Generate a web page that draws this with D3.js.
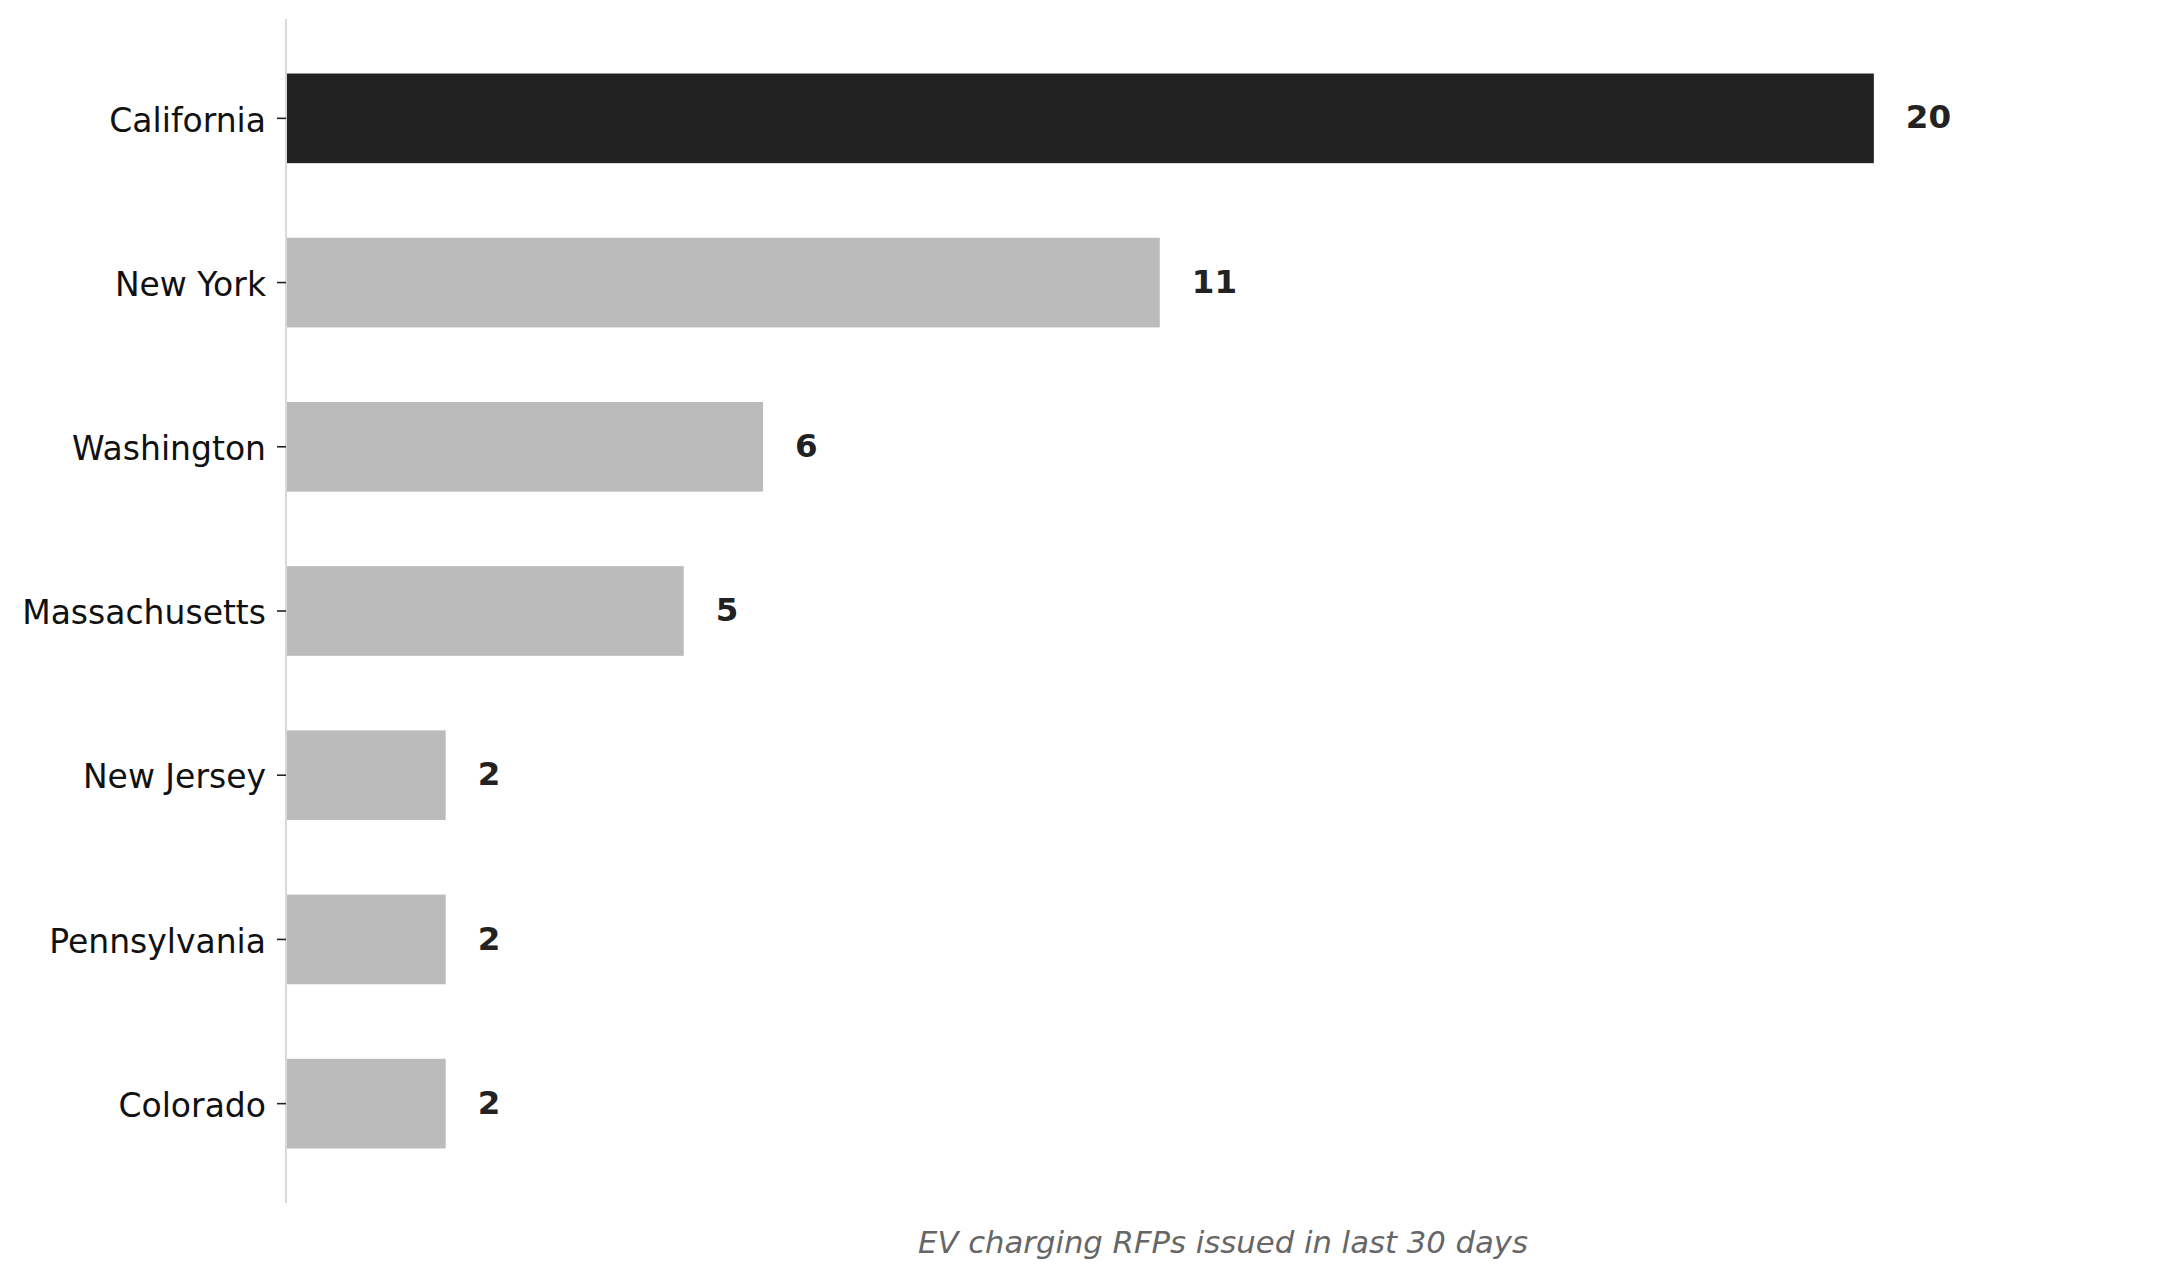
<!DOCTYPE html>
<html>
<head>
<meta charset="utf-8">
<script src="https://cdn.jsdelivr.net/npm/d3@7"></script>
<style>
  body { margin: 0; background: #fff; }
  svg { font-family: "DejaVu Sans", sans-serif; }
</style>
</head>
<body>
<svg id="chart"></svg>
<script>
const states = ["California", "New York", "Washington", "Massachusetts", "New Jersey", "Pennsylvania", "Colorado"];
const rfps = [20, 11, 6, 5, 2, 2, 2];
const highlight = "California";
const xLabel = "EV charging RFPs issued in last 30 days";

const data = states.map((s, i) => ({ state: s, value: rfps[i] }));

const margin = { top: 19, right: 10, bottom: 77, left: 287 };
const width = 2179 - margin.left - margin.right;
const height = 1280 - margin.top - margin.bottom;

const x = d3
  .scaleLinear()
  .range([0, width])
  .domain([0, d3.max(rfps) * 1.186]);

const y = d3
  .scaleBand()
  .range([0, height])
  .domain(states)
  .paddingInner(0.454)
  .paddingOuter(0.332);

const chart = d3
  .select("#chart")
  .attr("width", 2179)
  .attr("height", 1280)
  .append("g")
  .attr("transform", `translate(${margin.left}, ${margin.top})`);

chart
  .selectAll(".bar")
  .data(data)
  .enter()
  .append("rect")
  .attr("class", "bar")
  .attr("x", 0)
  .attr("y", d => y(d.state))
  .attr("width", d => x(d.value))
  .attr("height", y.bandwidth())
  .style("fill", d => (d.state === highlight ? "#222222" : "#bbbbbb"));

chart
  .selectAll(".value")
  .data(data)
  .enter()
  .append("text")
  .attr("class", "value")
  .attr("x", d => x(d.value) + 32)
  .attr("y", d => y(d.state) + y.bandwidth() / 2)
  .attr("dy", "0.31em")
  .style("font-size", "32.5px")
  .style("font-weight", "bold")
  .style("fill", "#222")
  .text(d => d.value);

const yAxis = d3.axisLeft(y).tickSize(9).tickSizeOuter(0).tickPadding(12);

const ya = chart.append("g").call(yAxis);
ya.select(".domain")
  .attr("d", `M-1,0V${height}`)
  .style("stroke", "#d9d9d9")
  .style("stroke-width", 2);
ya.selectAll(".tick line")
  .attr("x1", -1)
  .attr("x2", -10)
  .style("stroke", "#222")
  .style("stroke-width", 1.6);
ya.selectAll(".tick text")
  .attr("dy", "0.4em")
  .style("font-family", '"DejaVu Sans", sans-serif')
  .style("font-size", "33px")
  .style("fill", "#111");

chart
  .append("text")
  .attr("class", "legend")
  .attr("x", width / 2 - 5)
  .attr("y", height + 50)
  .style("text-anchor", "middle")
  .style("font-size", "30.7px")
  .style("font-style", "italic")
  .style("fill", "#666")
  .text(xLabel);
</script>
</body>
</html>
